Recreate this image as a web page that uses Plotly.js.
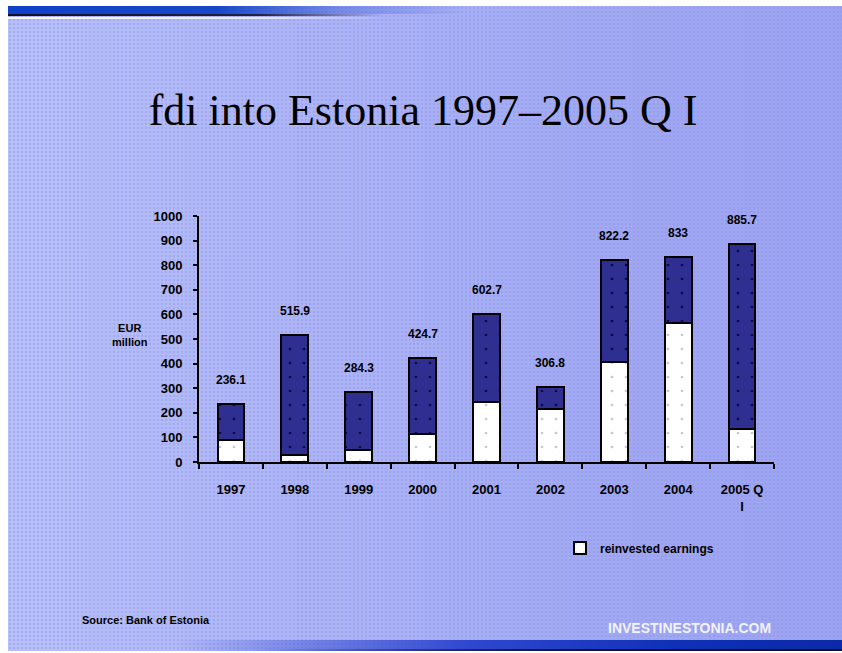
<!DOCTYPE html>
<html>
<head>
<meta charset="utf-8">
<script src="https://cdn.plot.ly/plotly-3.0.1.min.js"></script>
<style>
  html, body { margin: 0; padding: 0; background: #ffffff; }
  #wrap { position: relative; width: 842px; height: 653px; overflow: hidden; background: #ffffff; }
  #slide {
    position: absolute; left: 8px; top: 6px; width: 834px; height: 645px;
    background:
      radial-gradient(circle, rgba(150,130,230,0.35) 0.8px, transparent 1.2px) 0 0 / 4px 4px,
      linear-gradient(90deg, #b6c0f8 0%, #aab4f5 40%, #a0aaf2 70%, #9aa3f0 100%);
  }
  #topbar {
    position: absolute; left: 8px; top: 6px; width: 834px; height: 8px;
    background: linear-gradient(90deg, #1040c8 0%, #1848c8 25%, rgba(40,80,210,0.4) 40%, rgba(160,170,240,0) 55%);
  }
  #topline {
    position: absolute; left: 8px; top: 14px; width: 834px; height: 2px;
    background: linear-gradient(90deg, #101020 0%, #202040 30%, rgba(60,60,120,0) 45%);
  }
  #topdash {
    position: absolute; left: 8px; top: 17px; width: 834px; height: 2px;
    background: linear-gradient(90deg, rgba(255,255,255,0.9) 0%, rgba(255,255,255,0.7) 30%, rgba(255,255,255,0) 45%);
  }
  #botbar {
    position: absolute; left: 8px; top: 640px; width: 834px; height: 11px;
    background: linear-gradient(90deg, rgba(60,80,220,0) 20%, #3048d0 55%, #1030b8 80%, #0a2aa8 100%);
  }
  #botline {
    position: absolute; left: 8px; top: 649px; width: 834px; height: 2px;
    background: linear-gradient(90deg, rgba(0,0,0,0) 30%, #101030 70%);
  }
  #chart { position: absolute; left: 0; top: 0; width: 842px; height: 653px; }
</style>
</head>
<body>
<div id="wrap">
  <div id="slide"></div>
  <div id="topbar"></div>
  <div id="topline"></div>
  <div id="topdash"></div>
  <div id="botbar"></div>
  <div id="botline"></div>
  <div id="chart"></div>
</div>
<script>
// Data (EUR million)
const categories = ["1997", "1998", "1999", "2000", "2001", "2002", "2003", "2004", "2005 Q<br>I"];
const totals = [236.1, 515.9, 284.3, 424.7, 602.7, 306.8, 822.2, 833, 885.7];
const totalLabels = ["236.1", "515.9", "284.3", "424.7", "602.7", "306.8", "822.2", "833", "885.7"];
const reinvested = [88, 28, 49, 115, 243, 215, 406, 564, 134];
const otherFdi = totals.map((t, i) => +(t - reinvested[i]).toFixed(1));
const yTicks = [0, 100, 200, 300, 400, 500, 600, 700, 800, 900, 1000];

const boldFont = { family: "Liberation Sans, Arial, sans-serif", size: 12, color: "#000000", weight: "bold" };
const tickFont = { family: "Liberation Sans, Arial, sans-serif", size: 13, color: "#000000", weight: "bold" };

const traces = [
  {
    type: "bar",
    name: "reinvested earnings",
    x: categories,
    y: reinvested,
    marker: {
      color: "#ffffff",
      line: { color: "#000000", width: 2 },
      pattern: { shape: ".", fgcolor: "#c8c8d8", bgcolor: "#ffffff", size: 14, solidity: 0.03 }
    },
    showlegend: true,
    hoverinfo: "skip"
  },
  {
    type: "bar",
    name: "other fdi",
    x: categories,
    y: otherFdi,
    marker: {
      color: "#2f2f92",
      line: { color: "#000000", width: 2 },
      pattern: { shape: ".", fgcolor: "#0a0a40", bgcolor: "#2f2f92", size: 14, solidity: 0.03 }
    },
    showlegend: false,
    hoverinfo: "skip"
  }
];

// category index positions for the total labels
const annotations = categories.map((c, i) => ({
  x: i, y: totals[i], xref: "x", yref: "y",
  text: totalLabels[i], showarrow: false,
  yshift: 24, font: boldFont
}));

annotations.push({
  xref: "paper", yref: "paper", x: (110 - 199) / 575, y: (462 - 335) / 246,
  yanchor: "middle",
  text: "EUR<br>million", showarrow: false, align: "center",
  font: { family: "Liberation Sans, Arial, sans-serif", size: 11, color: "#000000", weight: "bold" }
});
annotations.push({
  xref: "paper", yref: "paper", x: (80 - 199) / 575, y: (462 - 620) / 246,
  xanchor: "left", yanchor: "middle", text: "Source: Bank of Estonia", showarrow: false,
  font: { family: "Liberation Sans, Arial, sans-serif", size: 11, color: "#000000", weight: "bold" }
});
annotations.push({
  xref: "paper", yref: "paper", x: (606 - 199) / 575, y: (462 - 628) / 246,
  xanchor: "left", yanchor: "middle", text: "INVESTINESTONIA.COM", showarrow: false,
  font: { family: "Liberation Sans, Arial, sans-serif", size: 14, color: "rgba(255,255,255,0.9)", weight: "bold" }
});

const layout = {
  width: 842, height: 653,
  paper_bgcolor: "rgba(0,0,0,0)",
  plot_bgcolor: "rgba(0,0,0,0)",
  margin: { l: 199, r: 68, t: 216, b: 191, pad: 0 },
  barmode: "stack",
  bargap: 0.58,
  title: {
    text: "fdi into Estonia 1997–2005 Q I",
    x: 423 / 842, xref: "container", xanchor: "center",
    y: 1 - 110 / 653, yref: "container", yanchor: "middle",
    font: { family: "Liberation Serif, Times New Roman, serif", size: 44, color: "#000000" }
  },
  xaxis: {
    type: "category",
    range: [-0.5, categories.length - 0.5],
    showline: true, linecolor: "#000000", linewidth: 2,
    ticks: "outside", tickson: "boundaries", ticklen: 5, tickwidth: 2, tickcolor: "#000000",
    showgrid: false, zeroline: false,
    tickangle: 0,
    tickfont: tickFont,
    ticklabelstandoff: 14
  },
  yaxis: {
    range: [0, 1000],
    tickvals: yTicks,
    showline: true, linecolor: "#000000", linewidth: 2,
    ticks: "outside", ticklen: 4, tickwidth: 2, tickcolor: "#000000",
    showgrid: false, zeroline: false,
    tickfont: tickFont,
    ticklabelstandoff: 8
  },
  legend: {
    x: (560 - 199) / 575, y: (462 - 548) / 246, xanchor: "left", yanchor: "middle",
    bgcolor: "rgba(0,0,0,0)",
    font: { family: "Liberation Sans, Arial, sans-serif", size: 12, color: "#000000", weight: "bold" },
    itemwidth: 30
  },
  annotations: annotations,
  showlegend: true
};

Plotly.newPlot("chart", traces, layout, { displayModeBar: false, staticPlot: true });
</script>
</body>
</html>
